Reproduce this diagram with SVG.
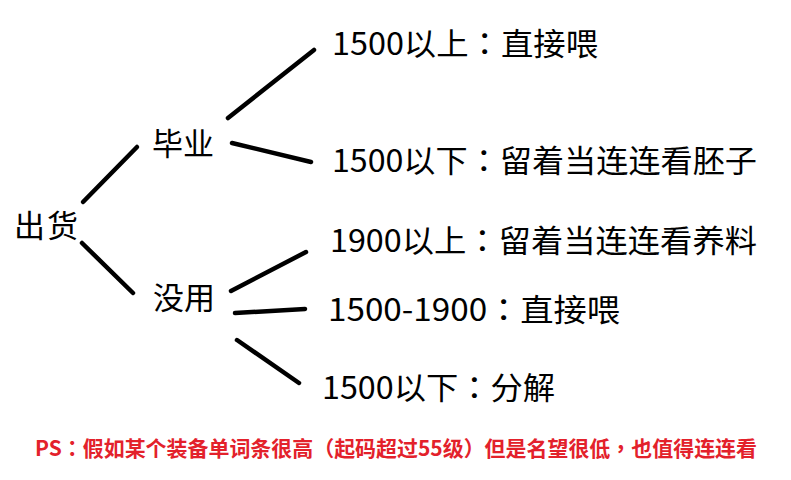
<svg xmlns="http://www.w3.org/2000/svg" width="791" height="480" viewBox="0 0 791 480">
<style>
.t{font-family:"Noto Sans CJK SC","Noto Sans",sans-serif;font-size:31px;fill:#000}
.c line{stroke:#000;stroke-width:4.5;stroke-linecap:round}
.ps{font-family:"Noto Sans CJK SC","Noto Sans",sans-serif;font-size:21px;font-weight:bold;fill:#e3212b}
.p{font-family:"Noto Sans CJK TC",sans-serif}
</style>
<rect width="791" height="480" fill="#fff"/>
<g class="c" id="connectors">
<line x1="83" y1="202" x2="137" y2="147"/>
<line x1="228" y1="118" x2="314" y2="50"/>
<line x1="232" y1="143" x2="311" y2="162"/>
<line x1="82" y1="243" x2="133" y2="293"/>
<line x1="231" y1="291" x2="306" y2="252"/>
<line x1="235" y1="313" x2="305" y2="309"/>
<line x1="237" y1="340" x2="299" y2="383"/>
</g>
<g id="root"><text class="t" x="14" y="237" textLength="64">出货</text></g>
<g id="biye"><text class="t" x="152" y="155" textLength="62">毕业</text></g>
<g id="meiyong"><text class="t" x="153" y="309" textLength="62">没用</text></g>
<g id="n1"><text class="t" x="332" y="55" textLength="266" lengthAdjust="spacingAndGlyphs">1500以上<tspan class="p">：</tspan>直接喂</text></g>
<g id="n2"><text class="t" x="332" y="172" textLength="425" lengthAdjust="spacingAndGlyphs">1500以下<tspan class="p">：</tspan>留着当连连看胚子</text></g>
<g id="n3"><text class="t" x="330" y="252" textLength="427" lengthAdjust="spacingAndGlyphs">1900以上<tspan class="p">：</tspan>留着当连连看养料</text></g>
<g id="n4"><text class="t" x="328" y="321" textLength="292" lengthAdjust="spacingAndGlyphs">1500-1900<tspan class="p">：</tspan>直接喂</text></g>
<g id="n5"><text class="t" x="322" y="399" textLength="233" lengthAdjust="spacingAndGlyphs">1500以下<tspan class="p">：</tspan>分解</text></g>
<g id="note"><text class="ps" x="35" y="456" textLength="722" lengthAdjust="spacingAndGlyphs">PS<tspan class="p">：</tspan>假如某个装备单词条很高<tspan class="p">（</tspan>起码超过55级<tspan class="p">）</tspan>但是名望很低<tspan class="p">，</tspan>也值得连连看</text></g>
</svg>
